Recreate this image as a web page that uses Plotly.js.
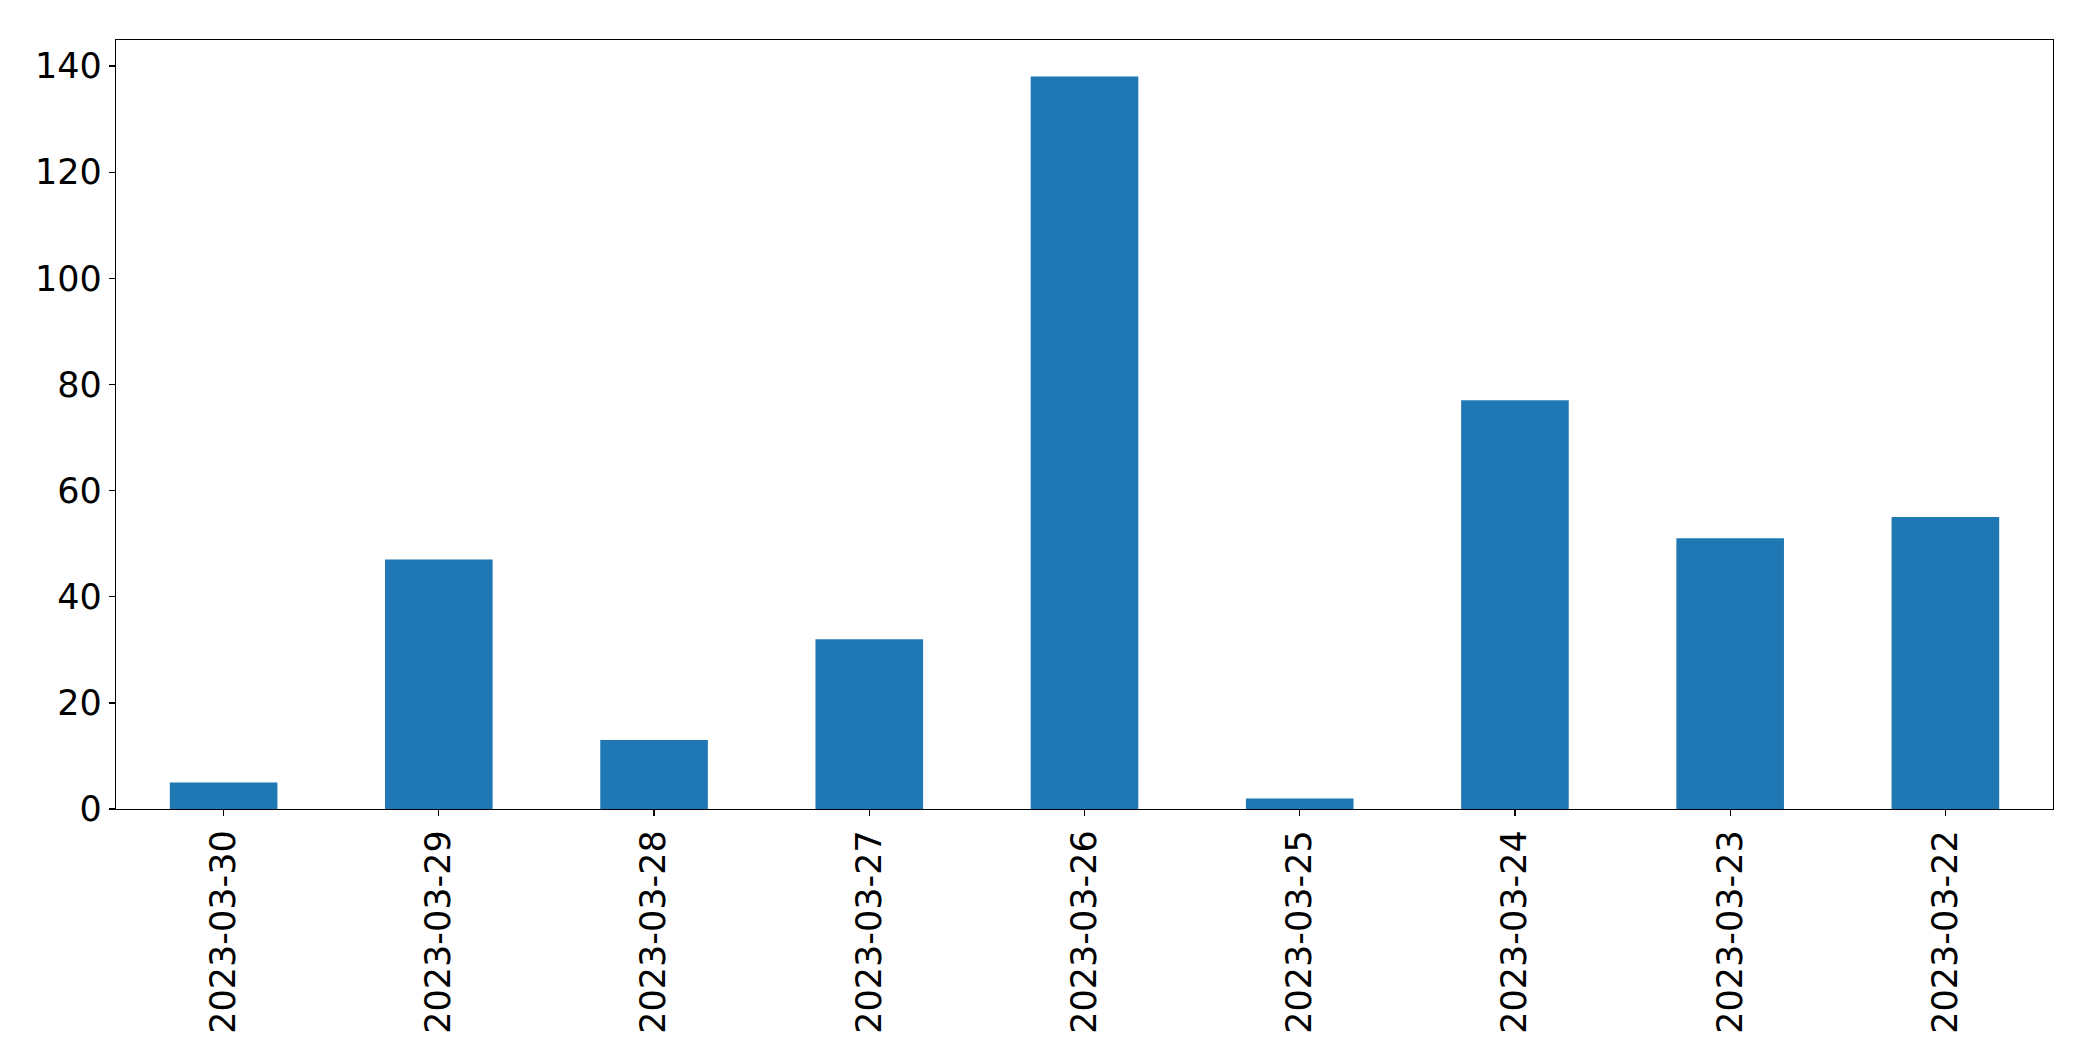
<!DOCTYPE html>
<html>
<head>
<meta charset="utf-8">
<script src="https://cdn.plot.ly/plotly-3.0.1.min.js"></script>
<style>html,body{margin:0;padding:0;background:#fff;}#chart{width:2093px;height:1061px;}</style>
</head>
<body>
<div id="chart"></div>
<script>
const dates = ["2023-03-30","2023-03-29","2023-03-28","2023-03-27","2023-03-26","2023-03-25","2023-03-24","2023-03-23","2023-03-22"];
const counts = [5, 47, 13, 32, 138, 2, 77, 51, 55];
const yTicks = [0, 20, 40, 60, 80, 100, 120, 140];

const fontFamily = "DejaVu Sans, sans-serif";
const trace = {
  type: "bar",
  x: dates,
  y: counts,
  width: 0.5,
  marker: {color: "#1f77b4", line: {width: 0}},
  hoverinfo: "x+y"
};
const yMax = Math.max(...counts) * 1.05;
const layout = {
  width: 2093, height: 1061,
  margin: {l: 116, r: 40, t: 40, b: 252},
  paper_bgcolor: "#fff", plot_bgcolor: "#fff",
  showlegend: false,
  bargap: 0.5,
  font: {family: fontFamily, size: 35, color: "#000"},
  xaxis: {
    type: "category",
    range: [-0.5, dates.length - 0.5],
    tickangle: -90,
    ticks: "outside", ticklen: 6, tickwidth: 1.3, tickcolor: "#000",
    showline: true, linecolor: "#000", linewidth: 1.3, mirror: true,
    showgrid: false, zeroline: false,
    tickfont: {family: fontFamily, size: 35, color: "#000"}
  },
  yaxis: {
    range: [0, yMax],
    tickvals: yTicks,
    ticktext: yTicks.map(String),
    ticks: "outside", ticklen: 6, tickwidth: 1.3, tickcolor: "#000",
    showline: true, linecolor: "#000", linewidth: 1.3, mirror: true,
    showgrid: false, zeroline: false,
    tickfont: {family: fontFamily, size: 35, color: "#000"}
  }
};
Plotly.newPlot("chart", [trace], layout, {displayModeBar: false, staticPlot: true});
</script>
</body>
</html>
